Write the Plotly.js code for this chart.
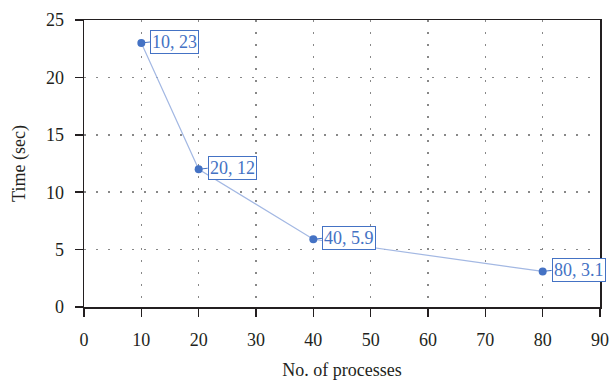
<!DOCTYPE html>
<html><head><meta charset="utf-8">
<script src="https://cdn.plot.ly/plotly-3.0.1.min.js"></script>
<style>html,body{margin:0;padding:0;background:#fff}#chart{width:612px;height:381px}</style>
</head><body><div id="chart"></div>
<script>
const processes = [10, 20, 40, 80];
const times = [23, 12, 5.9, 3.1];
const labels = ["10, 23", "20, 12", "40, 5.9", "80, 3.1"];
const xTicks = [0, 10, 20, 30, 40, 50, 60, 70, 80, 90];
const yTicks = [0, 5, 10, 15, 20, 25];

const font = {family: "Liberation Serif, DejaVu Serif, serif", size: 18, color: "#231f20"};
const blue = "#4472c4";

const annotations = processes.map((x, i) => ({
  x: x, y: times[i], xref: "x", yref: "y",
  text: labels[i], showarrow: true, arrowhead: 0, arrowwidth: 1, arrowcolor: blue,
  ax: 9, ay: -1, xanchor: "left", yanchor: "middle",
  bordercolor: blue, borderwidth: 1, borderpad: 1, bgcolor: "#fff",
  font: {family: font.family, size: 18, color: blue}
}));

const axisCommon = {
  ticks: "outside", ticklen: 8, tickcolor: "#231f20", tickwidth: 1.5,
  showline: true, linecolor: "#231f20", linewidth: 1.5, mirror: true,
  showgrid: true, gridcolor: "#888", griddash: "1.5px,10.5px", gridwidth: 1.5,
  zeroline: false, tickfont: font, ticklabelstandoff: 8
};

Plotly.newPlot("chart", [{
  x: processes, y: times, type: "scatter", mode: "lines+markers",
  line: {color: "#a3b8e3", width: 1.2},
  marker: {color: blue, size: 8}
}], {
  width: 612, height: 381,
  margin: {l: 84, r: 12, t: 20, b: 74},
  paper_bgcolor: "#fff", plot_bgcolor: "#fff",
  font: font, showlegend: false,
  xaxis: Object.assign({}, axisCommon, {
    range: [0, 90], tickvals: xTicks,
    title: {text: "No. of processes", font: font, standoff: 14}
  }),
  yaxis: Object.assign({}, axisCommon, {
    range: [0, 25], tickvals: yTicks, ticklabelstandoff: 7,
    title: {text: "Time (sec)", font: font, standoff: 15}
  }),
  annotations: annotations
}, {displayModeBar: false, staticPlot: true});
</script></body></html>
